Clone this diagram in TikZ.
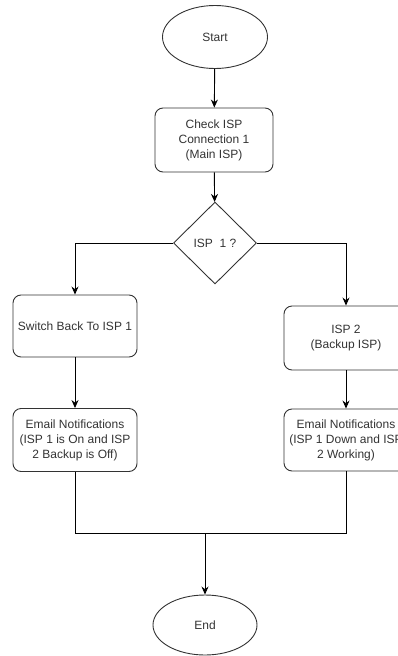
\documentclass[tikz,border=0pt]{standalone}
\usepackage{fontspec}
\setmainfont{Liberation Sans}
\usepackage{tikz}
\usetikzlibrary{shapes.geometric}
\usetikzlibrary{arrows.meta}
\usetikzlibrary{positioning}

\begin{document}
\begin{tikzpicture}[x=1pt,y=-1pt,
      term/.style={draw=black!80,line width=0.9pt,ellipse,text=black!80,inner sep=0pt},
      proc/.style={draw=black!80,line width=0.9pt,rounded corners=8pt,text=black!80,
        align=center,minimum width=124pt,inner sep=0pt},
      dec/.style={draw=black!80,line width=0.9pt,diamond,text=black!80,inner sep=0pt,
        minimum width=83pt,minimum height=82pt},
      flow/.style={line width=0.9pt,-{Stealth[length=8pt,width=7pt]}},
      font=\fontsize{12}{15}\selectfont,
    ]
        \useasboundingbox (0,0) rectangle (398,656);
        \clip (0,0) rectangle (398,656);
        \node[term,minimum width=105pt,minimum height=63pt] (start) at (215,37) {Start};
        \node[proc,minimum width=118pt,minimum height=64pt] (check) at (214,140)
            {Check ISP\\Connection 1\\(Main ISP)};
        \node[dec] (isp) at (215,243) {ISP\ \ 1 ?};
        \node[proc,minimum height=62pt] (switch) at (75,326) {Switch Back To ISP 1};
        \node[proc,minimum height=64pt] (backup) at (346,338) {ISP 2\\(Backup ISP)};
        \node[proc,minimum height=63pt] (mailon) at (75,440)
            {Email Notifications\\(ISP 1 is On and ISP\\2 Backup is Off)};
        \node[proc,minimum height=62pt] (maildown) at (346,440)
            {Email Notifications\\(ISP 1 Down and ISP\\2 Working)};
        \node[term,minimum width=104pt,minimum height=60pt] (end) at (205,625) {End};
        \coordinate (join) at (205,533);

        \draw[flow] (start) -- (check);
        \draw[flow] (check) -- (isp);
        \draw[flow] (isp.west) -| (switch.north);
        \draw[flow] (isp.east) -| (backup.north);
        \draw[flow] (switch) -- (mailon);
        \draw[flow] (backup) -- (maildown);
        \draw[line width=0.9pt] (mailon.south) |- (join);
        \draw[line width=0.9pt] (maildown.south) |- (join);
        \draw[flow] (join) -- (end);
    \end{tikzpicture}
\end{document}
